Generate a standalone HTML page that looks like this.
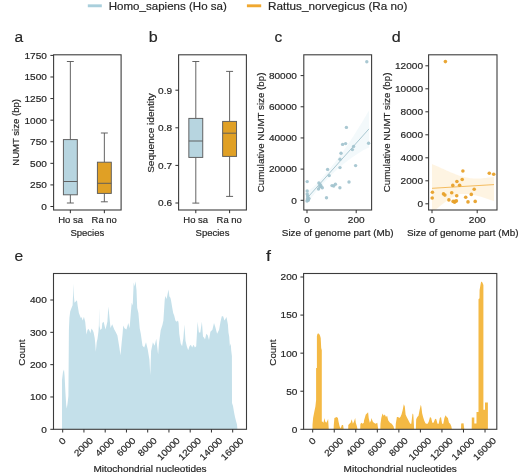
<!DOCTYPE html><html><head><meta charset="utf-8"><style>html,body{margin:0;padding:0;background:#fff;}svg{display:block;will-change:transform;}text{font-family:"Liberation Sans", sans-serif;stroke:#262626;stroke-width:0.18px;}</style></head><body>
<svg width="520" height="474" viewBox="0 0 520 474">
<rect width="520" height="474" fill="#fff"/>
<line x1="87.8" y1="5.8" x2="101.8" y2="5.8" stroke="#a9cfdc" stroke-width="2.9"/>
<text x="108.76" y="9.80" font-size="10.93" textLength="118.06" lengthAdjust="spacingAndGlyphs" fill="#262626">Homo_sapiens (Ho sa)</text>
<line x1="246.9" y1="5.8" x2="261.2" y2="5.8" stroke="#f0a830" stroke-width="2.9"/>
<text x="268.11" y="9.80" font-size="10.93" textLength="139.36" lengthAdjust="spacingAndGlyphs" fill="#262626">Rattus_norvegicus (Ra no)</text>
<text x="14.45" y="41.70" font-size="14.59" textLength="8.64" lengthAdjust="spacingAndGlyphs" fill="#262626">a</text>
<text x="148.87" y="41.50" font-size="14.59" textLength="8.95" lengthAdjust="spacingAndGlyphs" fill="#262626">b</text>
<text x="274.57" y="41.70" font-size="14.59" textLength="7.75" lengthAdjust="spacingAndGlyphs" fill="#262626">c</text>
<text x="391.68" y="41.70" font-size="14.59" textLength="8.95" lengthAdjust="spacingAndGlyphs" fill="#262626">d</text>
<text x="14.40" y="261.30" font-size="14.59" textLength="8.67" lengthAdjust="spacingAndGlyphs" fill="#262626">e</text>
<text x="265.97" y="261.30" font-size="14.59" textLength="4.96" lengthAdjust="spacingAndGlyphs" fill="#262626">f</text>
<line x1="70.35" y1="61.50" x2="70.35" y2="139.60" stroke="#5c5c5c" stroke-width="0.95"/>
<line x1="70.35" y1="194.80" x2="70.35" y2="203.00" stroke="#5c5c5c" stroke-width="0.95"/>
<line x1="66.88" y1="61.50" x2="73.82" y2="61.50" stroke="#5c5c5c" stroke-width="0.95"/>
<line x1="66.88" y1="203.00" x2="73.82" y2="203.00" stroke="#5c5c5c" stroke-width="0.95"/>
<rect x="63.40" y="139.60" width="13.90" height="55.20" fill="#b7d5e0" stroke="#5c5c5c" stroke-width="0.95"/>
<line x1="63.40" y1="181.50" x2="77.30" y2="181.50" stroke="#5c5c5c" stroke-width="0.95"/>
<line x1="104.35" y1="133.00" x2="104.35" y2="162.20" stroke="#5c5c5c" stroke-width="0.95"/>
<line x1="104.35" y1="193.40" x2="104.35" y2="201.80" stroke="#5c5c5c" stroke-width="0.95"/>
<line x1="100.88" y1="133.00" x2="107.82" y2="133.00" stroke="#5c5c5c" stroke-width="0.95"/>
<line x1="100.88" y1="201.80" x2="107.82" y2="201.80" stroke="#5c5c5c" stroke-width="0.95"/>
<rect x="97.40" y="162.20" width="13.90" height="31.20" fill="#e0a025" stroke="#5c5c5c" stroke-width="0.95"/>
<line x1="97.40" y1="183.30" x2="111.30" y2="183.30" stroke="#5c5c5c" stroke-width="0.95"/>
<rect x="53.60" y="54.80" width="67.50" height="155.20" fill="none" stroke="#3c3c3c" stroke-width="1.1"/>
<line x1="50.40" y1="206.50" x2="53.60" y2="206.50" stroke="#2e2e2e" stroke-width="1.0"/>
<text x="46.90" y="209.85" font-size="9.11" text-anchor="end" textLength="5.60" lengthAdjust="spacingAndGlyphs" fill="#262626">0</text>
<line x1="50.40" y1="184.91" x2="53.60" y2="184.91" stroke="#2e2e2e" stroke-width="1.0"/>
<text x="46.90" y="188.26" font-size="9.11" text-anchor="end" textLength="16.80" lengthAdjust="spacingAndGlyphs" fill="#262626">250</text>
<line x1="50.40" y1="163.33" x2="53.60" y2="163.33" stroke="#2e2e2e" stroke-width="1.0"/>
<text x="46.90" y="166.68" font-size="9.11" text-anchor="end" textLength="16.80" lengthAdjust="spacingAndGlyphs" fill="#262626">500</text>
<line x1="50.40" y1="141.74" x2="53.60" y2="141.74" stroke="#2e2e2e" stroke-width="1.0"/>
<text x="46.90" y="145.09" font-size="9.11" text-anchor="end" textLength="16.80" lengthAdjust="spacingAndGlyphs" fill="#262626">750</text>
<line x1="50.40" y1="120.16" x2="53.60" y2="120.16" stroke="#2e2e2e" stroke-width="1.0"/>
<text x="46.90" y="123.51" font-size="9.11" text-anchor="end" textLength="22.40" lengthAdjust="spacingAndGlyphs" fill="#262626">1000</text>
<line x1="50.40" y1="98.57" x2="53.60" y2="98.57" stroke="#2e2e2e" stroke-width="1.0"/>
<text x="46.90" y="101.92" font-size="9.11" text-anchor="end" textLength="22.40" lengthAdjust="spacingAndGlyphs" fill="#262626">1250</text>
<line x1="50.40" y1="76.99" x2="53.60" y2="76.99" stroke="#2e2e2e" stroke-width="1.0"/>
<text x="46.90" y="80.34" font-size="9.11" text-anchor="end" textLength="22.40" lengthAdjust="spacingAndGlyphs" fill="#262626">1500</text>
<line x1="50.40" y1="55.40" x2="53.60" y2="55.40" stroke="#2e2e2e" stroke-width="1.0"/>
<text x="46.90" y="58.75" font-size="9.11" text-anchor="end" textLength="22.40" lengthAdjust="spacingAndGlyphs" fill="#262626">1750</text>
<line x1="70.35" y1="210.00" x2="70.35" y2="213.20" stroke="#2e2e2e" stroke-width="1.0"/>
<line x1="104.35" y1="210.00" x2="104.35" y2="213.20" stroke="#2e2e2e" stroke-width="1.0"/>
<text x="58.28" y="223.00" font-size="9.11" textLength="24.78" lengthAdjust="spacingAndGlyphs" fill="#262626">Ho sa</text>
<text x="91.63" y="223.00" font-size="9.11" textLength="25.27" lengthAdjust="spacingAndGlyphs" fill="#262626">Ra no</text>
<text x="87.35" y="235.60" font-size="9.11" text-anchor="middle" textLength="33.87" lengthAdjust="spacingAndGlyphs" fill="#262626">Species</text>
<text transform="translate(19.40,132.40) rotate(-90)" x="0" y="0" font-size="9.11" text-anchor="middle" textLength="66.69" lengthAdjust="spacingAndGlyphs" fill="#262626">NUMT size (bp)</text>
<line x1="195.80" y1="61.50" x2="195.80" y2="118.40" stroke="#5c5c5c" stroke-width="0.95"/>
<line x1="195.80" y1="157.40" x2="195.80" y2="203.10" stroke="#5c5c5c" stroke-width="0.95"/>
<line x1="192.33" y1="61.50" x2="199.28" y2="61.50" stroke="#5c5c5c" stroke-width="0.95"/>
<line x1="192.33" y1="203.10" x2="199.28" y2="203.10" stroke="#5c5c5c" stroke-width="0.95"/>
<rect x="188.85" y="118.40" width="13.90" height="39.00" fill="#b7d5e0" stroke="#5c5c5c" stroke-width="0.95"/>
<line x1="188.85" y1="141.00" x2="202.75" y2="141.00" stroke="#5c5c5c" stroke-width="0.95"/>
<line x1="229.60" y1="71.40" x2="229.60" y2="121.40" stroke="#5c5c5c" stroke-width="0.95"/>
<line x1="229.60" y1="156.40" x2="229.60" y2="196.40" stroke="#5c5c5c" stroke-width="0.95"/>
<line x1="226.12" y1="71.40" x2="233.07" y2="71.40" stroke="#5c5c5c" stroke-width="0.95"/>
<line x1="226.12" y1="196.40" x2="233.07" y2="196.40" stroke="#5c5c5c" stroke-width="0.95"/>
<rect x="222.65" y="121.40" width="13.90" height="35.00" fill="#e0a025" stroke="#5c5c5c" stroke-width="0.95"/>
<line x1="222.65" y1="133.20" x2="236.55" y2="133.20" stroke="#5c5c5c" stroke-width="0.95"/>
<rect x="178.60" y="54.80" width="67.80" height="155.20" fill="none" stroke="#3c3c3c" stroke-width="1.1"/>
<line x1="175.40" y1="203.00" x2="178.60" y2="203.00" stroke="#2e2e2e" stroke-width="1.0"/>
<text x="172.10" y="206.35" font-size="9.11" text-anchor="end" textLength="13.99" lengthAdjust="spacingAndGlyphs" fill="#262626">0.6</text>
<line x1="175.40" y1="165.40" x2="178.60" y2="165.40" stroke="#2e2e2e" stroke-width="1.0"/>
<text x="172.10" y="168.75" font-size="9.11" text-anchor="end" textLength="13.99" lengthAdjust="spacingAndGlyphs" fill="#262626">0.7</text>
<line x1="175.40" y1="127.80" x2="178.60" y2="127.80" stroke="#2e2e2e" stroke-width="1.0"/>
<text x="172.10" y="131.15" font-size="9.11" text-anchor="end" textLength="13.99" lengthAdjust="spacingAndGlyphs" fill="#262626">0.8</text>
<line x1="175.40" y1="90.20" x2="178.60" y2="90.20" stroke="#2e2e2e" stroke-width="1.0"/>
<text x="172.10" y="93.55" font-size="9.11" text-anchor="end" textLength="13.99" lengthAdjust="spacingAndGlyphs" fill="#262626">0.9</text>
<line x1="195.80" y1="210.00" x2="195.80" y2="213.20" stroke="#2e2e2e" stroke-width="1.0"/>
<line x1="229.60" y1="210.00" x2="229.60" y2="213.20" stroke="#2e2e2e" stroke-width="1.0"/>
<text x="183.33" y="223.00" font-size="9.11" textLength="24.78" lengthAdjust="spacingAndGlyphs" fill="#262626">Ho sa</text>
<text x="216.58" y="223.00" font-size="9.11" textLength="25.27" lengthAdjust="spacingAndGlyphs" fill="#262626">Ra no</text>
<text x="212.50" y="235.60" font-size="9.11" text-anchor="middle" textLength="33.87" lengthAdjust="spacingAndGlyphs" fill="#262626">Species</text>
<text transform="translate(154.20,133.00) rotate(-90)" x="0" y="0" font-size="9.11" text-anchor="middle" textLength="79.78" lengthAdjust="spacingAndGlyphs" fill="#262626">Sequence identity</text>
<polygon points="307.0,192.5 310.1,189.8 313.2,187.0 316.3,184.0 319.4,180.8 322.5,177.4 325.6,173.8 328.7,170.1 331.8,166.3 334.9,162.4 338.0,158.3 341.1,154.1 344.2,149.8 347.3,145.3 350.4,140.7 353.5,136.0 356.6,131.1 359.7,126.1 362.8,121.0 365.9,115.8 369.0,110.4 369.0,147.4 365.9,149.0 362.8,150.6 359.7,152.5 356.6,154.4 353.5,156.5 350.4,158.7 347.3,161.0 344.2,163.5 341.1,166.1 338.0,168.8 334.9,171.6 331.8,174.6 328.7,177.8 325.6,181.0 322.5,184.4 319.4,187.9 316.3,191.6 313.2,195.5 310.1,199.7 307.0,204.0" fill="#add8e6" fill-opacity="0.15"/>
<line x1="307" y1="198.21" x2="369" y2="128.89" stroke="#a0c2cc" stroke-width="0.9"/>
<circle cx="366.8" cy="61.7" r="1.7" fill="#a0c2cd" fill-opacity="0.9"/>
<circle cx="346.4" cy="127.4" r="1.7" fill="#a0c2cd" fill-opacity="0.9"/>
<circle cx="342.6" cy="144.4" r="1.7" fill="#a0c2cd" fill-opacity="0.9"/>
<circle cx="345.6" cy="143.6" r="1.7" fill="#a0c2cd" fill-opacity="0.9"/>
<circle cx="368.6" cy="143.2" r="1.7" fill="#a0c2cd" fill-opacity="0.9"/>
<circle cx="353.6" cy="146.4" r="1.7" fill="#a0c2cd" fill-opacity="0.9"/>
<circle cx="352.4" cy="149.6" r="1.7" fill="#a0c2cd" fill-opacity="0.9"/>
<circle cx="341.0" cy="153.2" r="1.7" fill="#a0c2cd" fill-opacity="0.9"/>
<circle cx="340.0" cy="159.2" r="1.7" fill="#a0c2cd" fill-opacity="0.9"/>
<circle cx="340.0" cy="167.6" r="1.7" fill="#a0c2cd" fill-opacity="0.9"/>
<circle cx="355.6" cy="165.6" r="1.7" fill="#a0c2cd" fill-opacity="0.9"/>
<circle cx="327.6" cy="169.4" r="1.7" fill="#a0c2cd" fill-opacity="0.9"/>
<circle cx="329.2" cy="175.6" r="1.7" fill="#a0c2cd" fill-opacity="0.9"/>
<circle cx="307.2" cy="181.6" r="1.7" fill="#a0c2cd" fill-opacity="0.9"/>
<circle cx="349.0" cy="182.0" r="1.7" fill="#a0c2cd" fill-opacity="0.9"/>
<circle cx="318.9" cy="183.0" r="1.7" fill="#a0c2cd" fill-opacity="0.9"/>
<circle cx="320.2" cy="184.7" r="1.7" fill="#a0c2cd" fill-opacity="0.9"/>
<circle cx="321.0" cy="186.0" r="1.7" fill="#a0c2cd" fill-opacity="0.9"/>
<circle cx="322.3" cy="187.7" r="1.7" fill="#a0c2cd" fill-opacity="0.9"/>
<circle cx="318.5" cy="189.0" r="1.7" fill="#a0c2cd" fill-opacity="0.9"/>
<circle cx="319.8" cy="186.8" r="1.7" fill="#a0c2cd" fill-opacity="0.9"/>
<circle cx="332.0" cy="185.6" r="1.7" fill="#a0c2cd" fill-opacity="0.9"/>
<circle cx="333.7" cy="186.0" r="1.7" fill="#a0c2cd" fill-opacity="0.9"/>
<circle cx="335.4" cy="184.3" r="1.7" fill="#a0c2cd" fill-opacity="0.9"/>
<circle cx="339.9" cy="187.7" r="1.7" fill="#a0c2cd" fill-opacity="0.9"/>
<circle cx="307.2" cy="190.9" r="1.7" fill="#a0c2cd" fill-opacity="0.9"/>
<circle cx="326.5" cy="197.8" r="1.7" fill="#a0c2cd" fill-opacity="0.9"/>
<circle cx="307.2" cy="194.0" r="1.7" fill="#a0c2cd" fill-opacity="0.9"/>
<circle cx="307.6" cy="196.0" r="1.7" fill="#a0c2cd" fill-opacity="0.9"/>
<circle cx="308.0" cy="197.5" r="1.7" fill="#a0c2cd" fill-opacity="0.9"/>
<circle cx="307.4" cy="199.0" r="1.7" fill="#a0c2cd" fill-opacity="0.9"/>
<circle cx="308.3" cy="200.2" r="1.7" fill="#a0c2cd" fill-opacity="0.9"/>
<circle cx="307.0" cy="201.0" r="1.7" fill="#a0c2cd" fill-opacity="0.9"/>
<circle cx="309.0" cy="198.6" r="1.7" fill="#a0c2cd" fill-opacity="0.9"/>
<rect x="303.80" y="54.80" width="67.80" height="155.20" fill="none" stroke="#3c3c3c" stroke-width="1.1"/>
<line x1="300.60" y1="200.30" x2="303.80" y2="200.30" stroke="#2e2e2e" stroke-width="1.0"/>
<text x="296.90" y="203.65" font-size="9.11" text-anchor="end" textLength="5.60" lengthAdjust="spacingAndGlyphs" fill="#262626">0</text>
<line x1="300.60" y1="169.12" x2="303.80" y2="169.12" stroke="#2e2e2e" stroke-width="1.0"/>
<text x="296.90" y="172.47" font-size="9.11" text-anchor="end" textLength="27.99" lengthAdjust="spacingAndGlyphs" fill="#262626">20000</text>
<line x1="300.60" y1="137.95" x2="303.80" y2="137.95" stroke="#2e2e2e" stroke-width="1.0"/>
<text x="296.90" y="141.30" font-size="9.11" text-anchor="end" textLength="27.99" lengthAdjust="spacingAndGlyphs" fill="#262626">40000</text>
<line x1="300.60" y1="106.77" x2="303.80" y2="106.77" stroke="#2e2e2e" stroke-width="1.0"/>
<text x="296.90" y="110.12" font-size="9.11" text-anchor="end" textLength="27.99" lengthAdjust="spacingAndGlyphs" fill="#262626">60000</text>
<line x1="300.60" y1="75.60" x2="303.80" y2="75.60" stroke="#2e2e2e" stroke-width="1.0"/>
<text x="296.90" y="78.95" font-size="9.11" text-anchor="end" textLength="27.99" lengthAdjust="spacingAndGlyphs" fill="#262626">80000</text>
<line x1="307.00" y1="210.00" x2="307.00" y2="213.20" stroke="#2e2e2e" stroke-width="1.0"/>
<text x="307.00" y="223.00" font-size="9.11" text-anchor="middle" textLength="5.60" lengthAdjust="spacingAndGlyphs" fill="#262626">0</text>
<line x1="356.20" y1="210.00" x2="356.20" y2="213.20" stroke="#2e2e2e" stroke-width="1.0"/>
<text x="356.20" y="223.00" font-size="9.11" text-anchor="middle" textLength="16.80" lengthAdjust="spacingAndGlyphs" fill="#262626">200</text>
<text x="337.70" y="235.60" font-size="9.11" text-anchor="middle" textLength="111.77" lengthAdjust="spacingAndGlyphs" fill="#262626">Size of genome part (Mb)</text>
<text transform="translate(264.20,132.40) rotate(-90)" x="0" y="0" font-size="9.11" text-anchor="middle" textLength="119.71" lengthAdjust="spacingAndGlyphs" fill="#262626">Cumulative NUMT size (bp)</text>
<polygon points="432.0,164.0 433.0,164.4 434.0,164.9 435.0,165.3 436.0,165.8 437.0,166.2 438.0,166.6 439.0,167.1 440.0,167.5 441.0,167.9 442.0,168.4 443.0,168.8 444.0,169.3 445.0,169.8 446.0,170.2 447.0,170.7 448.0,171.1 449.0,171.6 450.0,172.0 451.0,172.4 452.0,172.8 453.0,173.2 454.0,173.6 455.0,174.0 456.0,174.4 457.0,174.8 458.0,175.2 459.0,175.6 460.0,176.0 461.0,176.2 462.0,176.5 463.0,176.7 464.0,176.9 465.0,177.2 466.0,177.4 467.0,177.6 468.0,177.8 469.0,178.1 470.0,178.3 471.0,178.3 472.0,178.3 473.0,178.4 474.0,178.4 475.0,178.4 476.0,178.4 477.0,178.4 478.0,178.5 479.0,178.5 480.0,178.5 481.0,178.4 482.0,178.3 483.0,178.2 484.0,178.1 485.0,178.0 486.0,177.9 487.0,177.8 488.0,177.6 489.0,177.5 490.0,177.4 491.0,177.3 492.0,177.2 493.0,177.1 494.0,177.0 494.0,201.0 493.0,200.7 492.0,200.4 491.0,200.0 490.0,199.7 489.0,199.4 488.0,199.1 487.0,198.8 486.0,198.4 485.0,198.1 484.0,197.8 483.0,197.5 482.0,197.1 481.0,196.8 480.0,196.5 479.0,196.2 478.0,196.0 477.0,195.8 476.0,195.5 475.0,195.2 474.0,195.0 473.0,194.8 472.0,194.5 471.0,194.2 470.0,194.0 469.0,194.0 468.0,194.0 467.0,194.0 466.0,194.0 465.0,194.0 464.0,194.0 463.0,194.0 462.0,194.0 461.0,194.0 460.0,194.0 459.0,194.4 458.0,194.9 457.0,195.3 456.0,195.8 455.0,196.2 454.0,196.7 453.0,197.2 452.0,197.6 451.0,198.1 450.0,198.5 449.0,199.2 448.0,200.0 447.0,200.8 446.0,201.5 445.0,202.2 444.0,203.0 443.0,203.8 442.0,204.5 441.0,205.2 440.0,206.0 439.0,206.9 438.0,207.8 437.0,208.6 436.0,209.5 435.0,210.0 434.0,210.0 433.0,210.0 432.0,210.0" fill="#f8a81c" fill-opacity="0.13"/>
<line x1="432" y1="188.30" x2="494" y2="184.60" stroke="#f3b550" stroke-width="0.9"/>
<circle cx="445.4" cy="61.6" r="1.8" fill="#e8a12a" fill-opacity="0.95"/>
<circle cx="462.9" cy="171.0" r="1.8" fill="#e8a12a" fill-opacity="0.95"/>
<circle cx="489.3" cy="173.3" r="1.8" fill="#e8a12a" fill-opacity="0.95"/>
<circle cx="493.7" cy="174.3" r="1.8" fill="#e8a12a" fill-opacity="0.95"/>
<circle cx="456.9" cy="181.5" r="1.8" fill="#e8a12a" fill-opacity="0.95"/>
<circle cx="462.2" cy="179.5" r="1.8" fill="#e8a12a" fill-opacity="0.95"/>
<circle cx="452.8" cy="185.4" r="1.8" fill="#e8a12a" fill-opacity="0.95"/>
<circle cx="459.6" cy="185.3" r="1.8" fill="#e8a12a" fill-opacity="0.95"/>
<circle cx="474.2" cy="189.3" r="1.8" fill="#e8a12a" fill-opacity="0.95"/>
<circle cx="432.4" cy="192.2" r="1.8" fill="#e8a12a" fill-opacity="0.95"/>
<circle cx="451.7" cy="192.8" r="1.8" fill="#e8a12a" fill-opacity="0.95"/>
<circle cx="443.5" cy="193.9" r="1.8" fill="#e8a12a" fill-opacity="0.95"/>
<circle cx="444.9" cy="195.1" r="1.8" fill="#e8a12a" fill-opacity="0.95"/>
<circle cx="471.3" cy="194.4" r="1.8" fill="#e8a12a" fill-opacity="0.95"/>
<circle cx="456.7" cy="195.7" r="1.8" fill="#e8a12a" fill-opacity="0.95"/>
<circle cx="432.2" cy="198.0" r="1.8" fill="#e8a12a" fill-opacity="0.95"/>
<circle cx="465.7" cy="197.3" r="1.8" fill="#e8a12a" fill-opacity="0.95"/>
<circle cx="448.9" cy="199.9" r="1.8" fill="#e8a12a" fill-opacity="0.95"/>
<circle cx="453.1" cy="201.4" r="1.8" fill="#e8a12a" fill-opacity="0.95"/>
<circle cx="454.6" cy="202.3" r="1.8" fill="#e8a12a" fill-opacity="0.95"/>
<circle cx="456.4" cy="200.9" r="1.8" fill="#e8a12a" fill-opacity="0.95"/>
<circle cx="455.0" cy="201.2" r="1.8" fill="#e8a12a" fill-opacity="0.95"/>
<circle cx="468.0" cy="201.9" r="1.8" fill="#e8a12a" fill-opacity="0.95"/>
<circle cx="475.2" cy="201.4" r="1.8" fill="#e8a12a" fill-opacity="0.95"/>
<rect x="428.60" y="54.80" width="68.40" height="155.20" fill="none" stroke="#3c3c3c" stroke-width="1.1"/>
<line x1="425.40" y1="203.80" x2="428.60" y2="203.80" stroke="#2e2e2e" stroke-width="1.0"/>
<text x="423.00" y="207.15" font-size="9.11" text-anchor="end" textLength="5.60" lengthAdjust="spacingAndGlyphs" fill="#262626">0</text>
<line x1="425.40" y1="180.80" x2="428.60" y2="180.80" stroke="#2e2e2e" stroke-width="1.0"/>
<text x="423.00" y="184.15" font-size="9.11" text-anchor="end" textLength="22.40" lengthAdjust="spacingAndGlyphs" fill="#262626">2000</text>
<line x1="425.40" y1="157.80" x2="428.60" y2="157.80" stroke="#2e2e2e" stroke-width="1.0"/>
<text x="423.00" y="161.15" font-size="9.11" text-anchor="end" textLength="22.40" lengthAdjust="spacingAndGlyphs" fill="#262626">4000</text>
<line x1="425.40" y1="134.80" x2="428.60" y2="134.80" stroke="#2e2e2e" stroke-width="1.0"/>
<text x="423.00" y="138.15" font-size="9.11" text-anchor="end" textLength="22.40" lengthAdjust="spacingAndGlyphs" fill="#262626">6000</text>
<line x1="425.40" y1="111.80" x2="428.60" y2="111.80" stroke="#2e2e2e" stroke-width="1.0"/>
<text x="423.00" y="115.15" font-size="9.11" text-anchor="end" textLength="22.40" lengthAdjust="spacingAndGlyphs" fill="#262626">8000</text>
<line x1="425.40" y1="88.80" x2="428.60" y2="88.80" stroke="#2e2e2e" stroke-width="1.0"/>
<text x="423.00" y="92.15" font-size="9.11" text-anchor="end" textLength="27.99" lengthAdjust="spacingAndGlyphs" fill="#262626">10000</text>
<line x1="425.40" y1="65.80" x2="428.60" y2="65.80" stroke="#2e2e2e" stroke-width="1.0"/>
<text x="423.00" y="69.15" font-size="9.11" text-anchor="end" textLength="27.99" lengthAdjust="spacingAndGlyphs" fill="#262626">12000</text>
<line x1="432.00" y1="210.00" x2="432.00" y2="213.20" stroke="#2e2e2e" stroke-width="1.0"/>
<text x="432.00" y="223.00" font-size="9.11" text-anchor="middle" textLength="5.60" lengthAdjust="spacingAndGlyphs" fill="#262626">0</text>
<line x1="477.20" y1="210.00" x2="477.20" y2="213.20" stroke="#2e2e2e" stroke-width="1.0"/>
<text x="477.20" y="223.00" font-size="9.11" text-anchor="middle" textLength="16.80" lengthAdjust="spacingAndGlyphs" fill="#262626">200</text>
<text x="462.80" y="235.60" font-size="9.11" text-anchor="middle" textLength="111.77" lengthAdjust="spacingAndGlyphs" fill="#262626">Size of genome part (Mb)</text>
<text transform="translate(390.00,132.40) rotate(-90)" x="0" y="0" font-size="9.11" text-anchor="middle" textLength="119.71" lengthAdjust="spacingAndGlyphs" fill="#262626">Cumulative NUMT size (bp)</text>
<polygon points="62.0,429.3 62.0,380.0 63.0,372.0 64.0,369.5 64.6,376.0 65.4,392.0 66.2,405.0 66.8,408.5 67.6,403.0 68.4,396.0 68.9,330.0 69.4,318.0 70.2,311.6 71.3,308.5 72.6,305.3 73.0,296.0 73.3,283.8 73.8,295.2 74.5,302.8 75.7,301.5 77.0,300.3 77.6,305.3 78.9,312.9 80.8,318.0 81.4,317.0 82.7,320.5 83.9,316.7 85.2,321.8 86.5,334.4 87.5,330.0 88.4,328.7 89.7,331.0 90.3,333.2 91.5,328.5 92.8,330.6 93.6,332.5 94.7,338.0 95.4,345.0 95.8,351.8 96.7,342.3 97.5,338.8 98.4,331.9 98.9,325.0 99.1,307.8 99.5,326.0 100.4,330.0 101.8,328.5 102.3,323.0 103.6,321.8 105.5,329.4 107.4,321.8 108.0,312.0 108.4,306.6 109.3,315.4 110.5,328.1 112.2,324.3 114.3,329.4 115.7,331.9 117.4,335.4 119.1,345.8 120.5,355.3 121.7,342.3 122.6,333.7 123.2,325.6 124.5,328.2 126.4,329.4 128.3,323.1 129.6,328.2 130.8,313.0 131.7,302.8 132.7,305.4 133.7,282.6 134.6,286.4 135.5,281.3 136.5,290.2 137.2,307.9 138.4,313.0 139.7,328.2 140.8,333.7 142.5,345.8 144.2,347.5 146.0,342.3 147.7,349.2 149.4,359.6 150.3,375.2 151.1,351.0 152.9,342.3 154.6,345.8 156.3,338.8 158.1,354.4 158.9,344.0 160.7,330.2 162.4,325.0 163.4,320.6 164.7,300.3 165.3,295.9 166.6,299.0 167.6,294.0 168.5,289.6 169.4,296.5 170.4,297.8 171.0,300.3 172.3,307.9 173.2,313.0 174.2,315.5 175.4,320.6 176.7,321.8 178.0,320.6 178.6,323.0 179.3,334.0 180.7,343.5 182.1,346.2 183.4,338.0 184.4,324.4 185.5,340.8 186.8,346.2 188.2,350.2 189.5,346.2 190.8,344.8 192.2,347.5 193.5,344.8 194.9,347.5 196.2,346.2 197.6,321.7 198.9,332.5 200.3,332.5 201.9,321.7 203.0,336.5 204.3,337.9 205.0,339.4 206.3,333.8 207.7,335.2 209.0,340.0 210.4,331.8 212.4,329.8 214.0,323.1 215.3,327.1 217.1,333.8 219.1,329.8 220.5,321.7 221.8,316.3 223.1,316.3 224.5,320.4 226.5,317.0 227.9,324.4 228.5,332.7 229.2,336.5 229.9,346.2 230.8,343.5 231.2,350.2 231.9,356.0 232.0,403.0 233.0,406.0 234.0,412.0 235.0,417.0 236.0,421.0 237.0,424.5 237.4,429.3" fill="#c4e0ea"/>
<rect x="53.50" y="273.50" width="193.00" height="155.80" fill="none" stroke="#3c3c3c" stroke-width="1.1"/>
<line x1="50.30" y1="429.30" x2="53.50" y2="429.30" stroke="#2e2e2e" stroke-width="1.0"/>
<text x="46.80" y="432.65" font-size="9.11" text-anchor="end" textLength="5.60" lengthAdjust="spacingAndGlyphs" fill="#262626">0</text>
<line x1="50.30" y1="396.98" x2="53.50" y2="396.98" stroke="#2e2e2e" stroke-width="1.0"/>
<text x="46.80" y="400.33" font-size="9.11" text-anchor="end" textLength="16.80" lengthAdjust="spacingAndGlyphs" fill="#262626">100</text>
<line x1="50.30" y1="364.65" x2="53.50" y2="364.65" stroke="#2e2e2e" stroke-width="1.0"/>
<text x="46.80" y="368.00" font-size="9.11" text-anchor="end" textLength="16.80" lengthAdjust="spacingAndGlyphs" fill="#262626">200</text>
<line x1="50.30" y1="332.33" x2="53.50" y2="332.33" stroke="#2e2e2e" stroke-width="1.0"/>
<text x="46.80" y="335.68" font-size="9.11" text-anchor="end" textLength="16.80" lengthAdjust="spacingAndGlyphs" fill="#262626">300</text>
<line x1="50.30" y1="300.00" x2="53.50" y2="300.00" stroke="#2e2e2e" stroke-width="1.0"/>
<text x="46.80" y="303.35" font-size="9.11" text-anchor="end" textLength="16.80" lengthAdjust="spacingAndGlyphs" fill="#262626">400</text>
<line x1="62.70" y1="429.30" x2="62.70" y2="432.50" stroke="#2e2e2e" stroke-width="1.0"/>
<text transform="translate(62.30,441.04) rotate(-45)" x="0" y="0" font-size="9.11" text-anchor="middle" textLength="5.60" lengthAdjust="spacingAndGlyphs" fill="#262626" dominant-baseline="central">0</text>
<line x1="83.95" y1="429.30" x2="83.95" y2="432.50" stroke="#2e2e2e" stroke-width="1.0"/>
<text transform="translate(83.55,446.98) rotate(-45)" x="0" y="0" font-size="9.11" text-anchor="middle" textLength="22.40" lengthAdjust="spacingAndGlyphs" fill="#262626" dominant-baseline="central">2000</text>
<line x1="105.20" y1="429.30" x2="105.20" y2="432.50" stroke="#2e2e2e" stroke-width="1.0"/>
<text transform="translate(104.80,446.98) rotate(-45)" x="0" y="0" font-size="9.11" text-anchor="middle" textLength="22.40" lengthAdjust="spacingAndGlyphs" fill="#262626" dominant-baseline="central">4000</text>
<line x1="126.45" y1="429.30" x2="126.45" y2="432.50" stroke="#2e2e2e" stroke-width="1.0"/>
<text transform="translate(126.05,446.98) rotate(-45)" x="0" y="0" font-size="9.11" text-anchor="middle" textLength="22.40" lengthAdjust="spacingAndGlyphs" fill="#262626" dominant-baseline="central">6000</text>
<line x1="147.70" y1="429.30" x2="147.70" y2="432.50" stroke="#2e2e2e" stroke-width="1.0"/>
<text transform="translate(147.30,446.98) rotate(-45)" x="0" y="0" font-size="9.11" text-anchor="middle" textLength="22.40" lengthAdjust="spacingAndGlyphs" fill="#262626" dominant-baseline="central">8000</text>
<line x1="168.95" y1="429.30" x2="168.95" y2="432.50" stroke="#2e2e2e" stroke-width="1.0"/>
<text transform="translate(168.55,448.96) rotate(-45)" x="0" y="0" font-size="9.11" text-anchor="middle" textLength="27.99" lengthAdjust="spacingAndGlyphs" fill="#262626" dominant-baseline="central">10000</text>
<line x1="190.20" y1="429.30" x2="190.20" y2="432.50" stroke="#2e2e2e" stroke-width="1.0"/>
<text transform="translate(189.80,448.96) rotate(-45)" x="0" y="0" font-size="9.11" text-anchor="middle" textLength="27.99" lengthAdjust="spacingAndGlyphs" fill="#262626" dominant-baseline="central">12000</text>
<line x1="211.45" y1="429.30" x2="211.45" y2="432.50" stroke="#2e2e2e" stroke-width="1.0"/>
<text transform="translate(211.05,448.96) rotate(-45)" x="0" y="0" font-size="9.11" text-anchor="middle" textLength="27.99" lengthAdjust="spacingAndGlyphs" fill="#262626" dominant-baseline="central">14000</text>
<line x1="232.70" y1="429.30" x2="232.70" y2="432.50" stroke="#2e2e2e" stroke-width="1.0"/>
<text transform="translate(232.30,448.96) rotate(-45)" x="0" y="0" font-size="9.11" text-anchor="middle" textLength="27.99" lengthAdjust="spacingAndGlyphs" fill="#262626" dominant-baseline="central">16000</text>
<text x="150.00" y="471.90" font-size="9.11" text-anchor="middle" textLength="113.25" lengthAdjust="spacingAndGlyphs" fill="#262626">Mitochondrial nucleotides</text>
<text transform="translate(25.30,352.60) rotate(-90)" x="0" y="0" font-size="9.11" text-anchor="middle" textLength="26.13" lengthAdjust="spacingAndGlyphs" fill="#262626">Count</text>
<polygon points="312.5,429.3 312.5,425.0 313.1,418.0 314.2,412.3 315.4,406.5 316.1,400.0 316.1,368.0 316.9,368.0 316.9,336.0 317.5,333.8 318.9,333.4 320.0,335.5 320.7,338.0 321.2,348.0 321.8,350.3 321.8,421.5 322.3,421.5 323.5,422.7 324.4,418.0 325.2,421.5 326.3,422.7 327.5,420.4 328.1,418.7 328.7,428.5 328.9,429.3" fill="#f4b944"/>
<polygon points="333.6,429.3 333.8,425.0 334.4,418.0 335.6,417.5 336.7,416.9 337.9,418.0 338.5,421.5 339.6,426.2 340.6,428.5 341.9,425.0 343.1,425.0 343.7,429.3" fill="#f4b944"/>
<polygon points="348.2,429.3 348.3,425.0 349.4,423.8 350.6,422.7 351.7,419.2 352.9,423.8 354.0,421.5 355.2,418.0 355.8,422.7 356.9,426.2 357.5,429.3" fill="#f4b944"/>
<polygon points="360.2,429.3 360.4,424.0 361.5,422.7 362.7,423.8 363.8,422.7 364.0,420.4 365.8,414.6 366.9,413.5 368.1,412.3 368.7,418.0 369.8,422.7 371.0,420.4 371.5,418.0 372.7,421.5 373.8,422.7 375.6,423.8 377.3,422.7 378.2,429.3" fill="#f4b944"/>
<polygon points="380.3,429.3 380.5,423.8 381.3,418.0 382.5,413.5 383.7,415.8 384.8,414.6 386.0,416.9 387.1,415.8 388.3,420.4 390.0,422.7 391.7,423.8 393.5,426.2 394.2,429.3" fill="#f4b944"/>
<polygon points="395.5,429.3 395.8,423.8 396.9,416.9 398.1,416.9 399.2,418.0 400.4,416.9 401.5,414.6 402.7,410.0 403.8,404.2 404.8,406.5 405.6,414.6 406.7,416.9 407.9,419.2 409.0,421.5 410.2,423.8 411.3,423.8 412.5,413.5 413.3,414.6 414.2,429.3" fill="#f4b944"/>
<polygon points="415.8,429.3 416.2,419.2 417.3,416.9 418.5,415.8 419.6,410.0 420.8,404.8 421.3,406.5 422.2,413.5 423.1,416.9 424.2,420.4 425.4,423.3 426.5,423.8 427.7,423.8 428.8,421.5 430.0,416.9 431.2,418.0 432.3,422.7 433.5,422.7 435.2,418.7 436.3,419.2 437.5,423.8 438.7,423.8 439.8,418.0 441.0,416.9 442.1,423.8 443.3,423.8 444.4,418.0 445.6,415.2 446.7,416.9 447.9,418.0 449.0,422.7 450.2,423.8 451.3,426.2 451.9,429.3" fill="#f4b944"/>
<polygon points="461.0,429.3 461.2,423.5 463.5,423.3 464.3,429.3" fill="#f4b944"/>
<polygon points="471.7,429.3 471.8,417.4 474.3,417.4 474.3,423.4 476.5,423.4 476.5,411.9 478.5,411.9 478.5,299.3 479.5,298.2 479.6,290.0 480.6,284.3 481.2,281.4 482.4,282.5 483.1,284.3 483.4,285.0 483.4,409.7 485.0,409.7 485.0,402.5 487.9,402.5 487.9,429.3" fill="#f4b944"/>
<rect x="303.60" y="273.50" width="193.20" height="155.80" fill="none" stroke="#3c3c3c" stroke-width="1.1"/>
<line x1="300.40" y1="429.30" x2="303.60" y2="429.30" stroke="#2e2e2e" stroke-width="1.0"/>
<text x="297.40" y="432.65" font-size="9.11" text-anchor="end" textLength="5.60" lengthAdjust="spacingAndGlyphs" fill="#262626">0</text>
<line x1="300.40" y1="391.23" x2="303.60" y2="391.23" stroke="#2e2e2e" stroke-width="1.0"/>
<text x="297.40" y="394.58" font-size="9.11" text-anchor="end" textLength="11.20" lengthAdjust="spacingAndGlyphs" fill="#262626">50</text>
<line x1="300.40" y1="353.15" x2="303.60" y2="353.15" stroke="#2e2e2e" stroke-width="1.0"/>
<text x="297.40" y="356.50" font-size="9.11" text-anchor="end" textLength="16.80" lengthAdjust="spacingAndGlyphs" fill="#262626">100</text>
<line x1="300.40" y1="315.08" x2="303.60" y2="315.08" stroke="#2e2e2e" stroke-width="1.0"/>
<text x="297.40" y="318.43" font-size="9.11" text-anchor="end" textLength="16.80" lengthAdjust="spacingAndGlyphs" fill="#262626">150</text>
<line x1="300.40" y1="277.00" x2="303.60" y2="277.00" stroke="#2e2e2e" stroke-width="1.0"/>
<text x="297.40" y="280.35" font-size="9.11" text-anchor="end" textLength="16.80" lengthAdjust="spacingAndGlyphs" fill="#262626">200</text>
<line x1="312.70" y1="429.30" x2="312.70" y2="432.50" stroke="#2e2e2e" stroke-width="1.0"/>
<text transform="translate(312.30,441.04) rotate(-45)" x="0" y="0" font-size="9.11" text-anchor="middle" textLength="5.60" lengthAdjust="spacingAndGlyphs" fill="#262626" dominant-baseline="central">0</text>
<line x1="334.24" y1="429.30" x2="334.24" y2="432.50" stroke="#2e2e2e" stroke-width="1.0"/>
<text transform="translate(333.84,446.98) rotate(-45)" x="0" y="0" font-size="9.11" text-anchor="middle" textLength="22.40" lengthAdjust="spacingAndGlyphs" fill="#262626" dominant-baseline="central">2000</text>
<line x1="355.78" y1="429.30" x2="355.78" y2="432.50" stroke="#2e2e2e" stroke-width="1.0"/>
<text transform="translate(355.38,446.98) rotate(-45)" x="0" y="0" font-size="9.11" text-anchor="middle" textLength="22.40" lengthAdjust="spacingAndGlyphs" fill="#262626" dominant-baseline="central">4000</text>
<line x1="377.32" y1="429.30" x2="377.32" y2="432.50" stroke="#2e2e2e" stroke-width="1.0"/>
<text transform="translate(376.92,446.98) rotate(-45)" x="0" y="0" font-size="9.11" text-anchor="middle" textLength="22.40" lengthAdjust="spacingAndGlyphs" fill="#262626" dominant-baseline="central">6000</text>
<line x1="398.86" y1="429.30" x2="398.86" y2="432.50" stroke="#2e2e2e" stroke-width="1.0"/>
<text transform="translate(398.46,446.98) rotate(-45)" x="0" y="0" font-size="9.11" text-anchor="middle" textLength="22.40" lengthAdjust="spacingAndGlyphs" fill="#262626" dominant-baseline="central">8000</text>
<line x1="420.40" y1="429.30" x2="420.40" y2="432.50" stroke="#2e2e2e" stroke-width="1.0"/>
<text transform="translate(420.00,448.96) rotate(-45)" x="0" y="0" font-size="9.11" text-anchor="middle" textLength="27.99" lengthAdjust="spacingAndGlyphs" fill="#262626" dominant-baseline="central">10000</text>
<line x1="441.94" y1="429.30" x2="441.94" y2="432.50" stroke="#2e2e2e" stroke-width="1.0"/>
<text transform="translate(441.54,448.96) rotate(-45)" x="0" y="0" font-size="9.11" text-anchor="middle" textLength="27.99" lengthAdjust="spacingAndGlyphs" fill="#262626" dominant-baseline="central">12000</text>
<line x1="463.48" y1="429.30" x2="463.48" y2="432.50" stroke="#2e2e2e" stroke-width="1.0"/>
<text transform="translate(463.08,448.96) rotate(-45)" x="0" y="0" font-size="9.11" text-anchor="middle" textLength="27.99" lengthAdjust="spacingAndGlyphs" fill="#262626" dominant-baseline="central">14000</text>
<line x1="485.02" y1="429.30" x2="485.02" y2="432.50" stroke="#2e2e2e" stroke-width="1.0"/>
<text transform="translate(484.62,448.96) rotate(-45)" x="0" y="0" font-size="9.11" text-anchor="middle" textLength="27.99" lengthAdjust="spacingAndGlyphs" fill="#262626" dominant-baseline="central">16000</text>
<text x="400.20" y="471.90" font-size="9.11" text-anchor="middle" textLength="113.25" lengthAdjust="spacingAndGlyphs" fill="#262626">Mitochondrial nucleotides</text>
<text transform="translate(276.40,352.60) rotate(-90)" x="0" y="0" font-size="9.11" text-anchor="middle" textLength="26.13" lengthAdjust="spacingAndGlyphs" fill="#262626">Count</text>
</svg></body></html>
